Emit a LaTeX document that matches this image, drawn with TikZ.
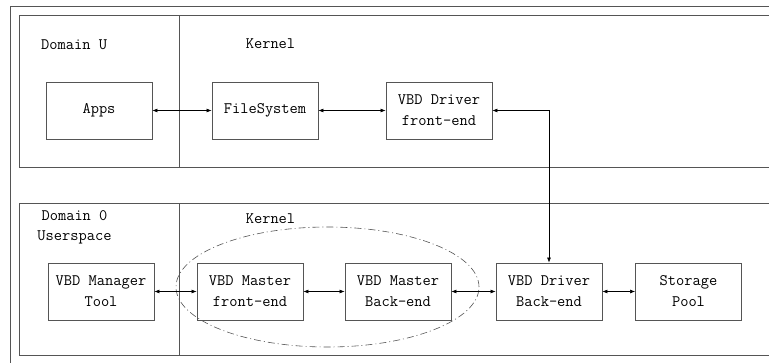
\documentclass[tikz,border=0pt]{standalone}
\usepackage{fontspec}
\usetikzlibrary{arrows.meta,shapes.geometric}
\definecolor{lc}{HTML}{555555}
\tikzset{
  x=1pt,y=-1pt,
  box/.style={draw=lc,line width=0.9pt,minimum width=106pt,minimum height=57pt,inner sep=0pt,align=center,font=\ttfamily\fontsize{16}{21}\selectfont},
  panel/.style={draw=lc,line width=0.9pt},
  lbl/.style={font=\ttfamily\fontsize{16}{20}\selectfont,align=center,inner sep=0pt},
  conn/.style={draw=black,line width=0.6pt,{Latex[length=5pt,width=4pt]}-{Latex[length=5pt,width=4pt]}},
  grpstyle/.style={draw=lc,line width=0.6pt,dash pattern=on 7pt off 3pt on 1pt off 3pt,ellipse,inner sep=0pt,minimum width=303pt,minimum height=120pt}
}
\begin{document}
\begin{tikzpicture}
\useasboundingbox (0,0) rectangle (769,362);
\clip (0,0) rectangle (769,362);
\fill[white] (0,0) rectangle (769,362);
% outer frame
\draw[panel] (10,380) -- (10,6) -- (790,6);
% upper panel
\draw[panel] (790,15) -- (19,15) -- (19,167) -- (790,167);
\draw[panel] (179,15) -- (179,167);
% lower panel
\draw[panel] (790,203) -- (19,203) -- (19,355) -- (790,355);
\draw[panel] (179,203) -- (179,355);
% labels
\node[lbl,anchor=west] (du) at (41,45) {Domain U};
\node[lbl] (ku) at (270.5,44) {Kernel};
\node[lbl] (d0) at (74.5,227) {Domain 0\\Userspace};
\node[lbl] (k0) at (270.5,219) {Kernel};
% ellipse group
\node[grpstyle] (grp) at (327.5,287) {};
% boxes
\node[box] (apps) at (99,110.5) {Apps};
\node[box] (fs) at (265,110.5) {FileSystem};
\node[box] (dfe) at (439,110.5) {VBD Driver\\front-end};
\node[box] (mgr) at (101,291.5) {VBD Manager\\Tool};
\node[box] (mfe) at (250,291.5) {VBD Master\\front-end};
\node[box] (mbe) at (398,291.5) {VBD Master\\Back-end};
\node[box] (dbe) at (549,291.5) {VBD Driver\\Back-end};
\node[box] (sp) at (688.5,291.5) {Storage\\Pool};
% connectors
\draw[conn] (apps) -- (fs);
\draw[conn] (fs) -- (dfe);
\draw[conn] (dfe.east) -| (dbe.north);
\draw[conn] (mgr) -- (mfe);
\draw[conn] (mfe) -- (mbe);
\draw[conn] (mbe) -- (dbe);
\draw[conn] (dbe) -- (sp);
\end{tikzpicture}
\end{document}
